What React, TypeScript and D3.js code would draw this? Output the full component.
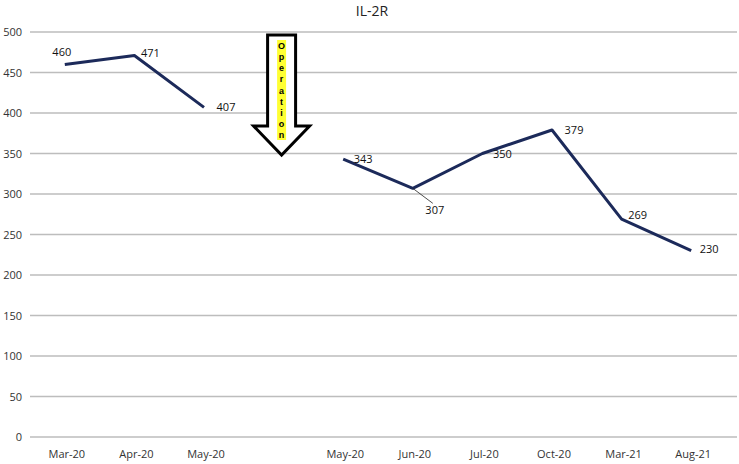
import { useRef, useEffect } from "react";
import * as d3 from "d3";

const categories = ["Mar-20", "Apr-20", "May-20", "", "May-20", "Jun-20", "Jul-20", "Oct-20", "Mar-21", "Aug-21"];
const values: (number | null)[] = [460, 471, 407, null, 343, 307, 350, 379, 269, 230];
const yTicks = [0, 50, 100, 150, 200, 250, 300, 350, 400, 450, 500];
const title = "IL-2R";
const arrowText = "Operation";
// label placement relative to the point [dx, dy]
const labelOffsets = [
  [-3, -8],
  [16, 2],
  [22, 4],
  [0, 0],
  [20, 4],
  [22, 26],
  [20, 4],
  [22, 4],
  [16, 0],
  [18, 2],
];

export default function App() {
  const ref = useRef<SVGSVGElement>(null);

  useEffect(() => {
    const w = 739;
    const h = 464;
    const left = 30;
    const gridRight = 737;
    const svg = d3.select(ref.current);
    svg.selectAll("*").remove();

    const x = d3
      .scaleBand()
      .domain(d3.range(categories.length).map(String))
      .range([left, 726]);
    const cx = (i: number) => (x(String(i)) as number) + x.bandwidth() / 2;

    const y = d3.scaleLinear().domain([0, 500]).range([437, 32]);

    svg.append("rect").attr("width", w).attr("height", h).attr("fill", "white");

    // gridlines
    svg
      .selectAll("line.grid")
      .data(yTicks)
      .enter()
      .append("line")
      .attr("x1", left)
      .attr("x2", gridRight)
      .attr("y1", (d) => y(d))
      .attr("y2", (d) => y(d))
      .attr("stroke", "#bdbdbd")
      .attr("stroke-width", 1.5);

    svg
      .selectAll("text.ytick")
      .data(yTicks)
      .enter()
      .append("text")
      .text((d) => d)
      .attr("x", 22)
      .attr("y", (d) => y(d) + 4)
      .attr("text-anchor", "end")
      .attr("font-family", "'Open Sans', sans-serif")
      .attr("font-size", "11px")
      .attr("fill", "#333");

    svg
      .selectAll("text.xtick")
      .data(categories)
      .enter()
      .append("text")
      .text((d) => d)
      .attr("x", (d, i) => cx(i) + 2)
      .attr("y", 458)
      .attr("text-anchor", "middle")
      .attr("font-family", "'Open Sans', sans-serif")
      .attr("font-size", "11px")
      .attr("fill", "#333");

    svg
      .append("text")
      .text(title)
      .attr("x", 372)
      .attr("y", 16)
      .attr("text-anchor", "middle")
      .attr("font-family", "'Open Sans', sans-serif")
      .attr("font-size", "14px")
      .attr("fill", "#222");

    const line = d3
      .line<number | null>()
      .defined((d) => d !== null)
      .x((d, i) => cx(i))
      .y((d) => y(d as number));

    svg
      .append("path")
      .datum(values)
      .attr("d", line)
      .attr("fill", "none")
      .attr("stroke", "#1c2a5a")
      .attr("stroke-width", 3)
      .attr("stroke-linejoin", "round");

    // leader line for 307
    const i307 = 5;
    svg
      .append("line")
      .attr("x1", cx(i307))
      .attr("y1", y(values[i307] as number))
      .attr("x2", cx(i307) + 20)
      .attr("y2", y(values[i307] as number) + 15)
      .attr("stroke", "#222")
      .attr("stroke-width", 0.8);

    svg
      .selectAll("text.lbl")
      .data(values)
      .enter()
      .filter((d) => d !== null)
      .append("text")
      .text((d) => d as number)
      .attr("x", (d) => cx(values.indexOf(d)) + labelOffsets[values.indexOf(d)][0])
      .attr("y", (d) => y(d as number) + labelOffsets[values.indexOf(d)][1])
      .attr("text-anchor", "middle")
      .attr("font-family", "'Open Sans', sans-serif")
      .attr("font-size", "11px")
      .attr("fill", "#111");

    // operation arrow
    const ax = cx(3) + 8;
    const top = 35;
    const shaftBottom = y(384);
    const tip = y(348);
    const sw = 14;
    const hw = 28;
    const arrow = d3.path();
    arrow.moveTo(ax - sw, top);
    arrow.lineTo(ax + sw, top);
    arrow.lineTo(ax + sw, shaftBottom);
    arrow.lineTo(ax + hw, shaftBottom);
    arrow.lineTo(ax, tip);
    arrow.lineTo(ax - hw, shaftBottom);
    arrow.lineTo(ax - sw, shaftBottom);
    arrow.closePath();
    svg
      .append("path")
      .attr("d", arrow.toString())
      .attr("fill", "white")
      .attr("stroke", "#000")
      .attr("stroke-width", 3)
      .attr("stroke-linejoin", "miter");

    const letters = arrowText.split("");
    const ly = d3
      .scalePoint()
      .domain(d3.range(letters.length).map(String))
      .range([46, 135]);
    svg
      .append("rect")
      .attr("x", ax - 4.5)
      .attr("y", 40)
      .attr("width", 9)
      .attr("height", 100)
      .attr("fill", "#ffff33");
    svg
      .selectAll("text.op")
      .data(letters)
      .enter()
      .append("text")
      .text((d) => d)
      .attr("x", ax)
      .attr("y", (d, i) => (ly(String(i)) as number) + 3)
      .attr("text-anchor", "middle")
      .attr("font-family", "'Liberation Sans', sans-serif")
      .attr("font-weight", "bold")
      .attr("font-size", "9px")
      .attr("fill", "#000");
  }, []);

  return (
    <svg
      ref={ref}
      width={739}
      height={464}
      style={{ position: "absolute", left: 0, top: 0, display: "block" }}
    />
  );
}
